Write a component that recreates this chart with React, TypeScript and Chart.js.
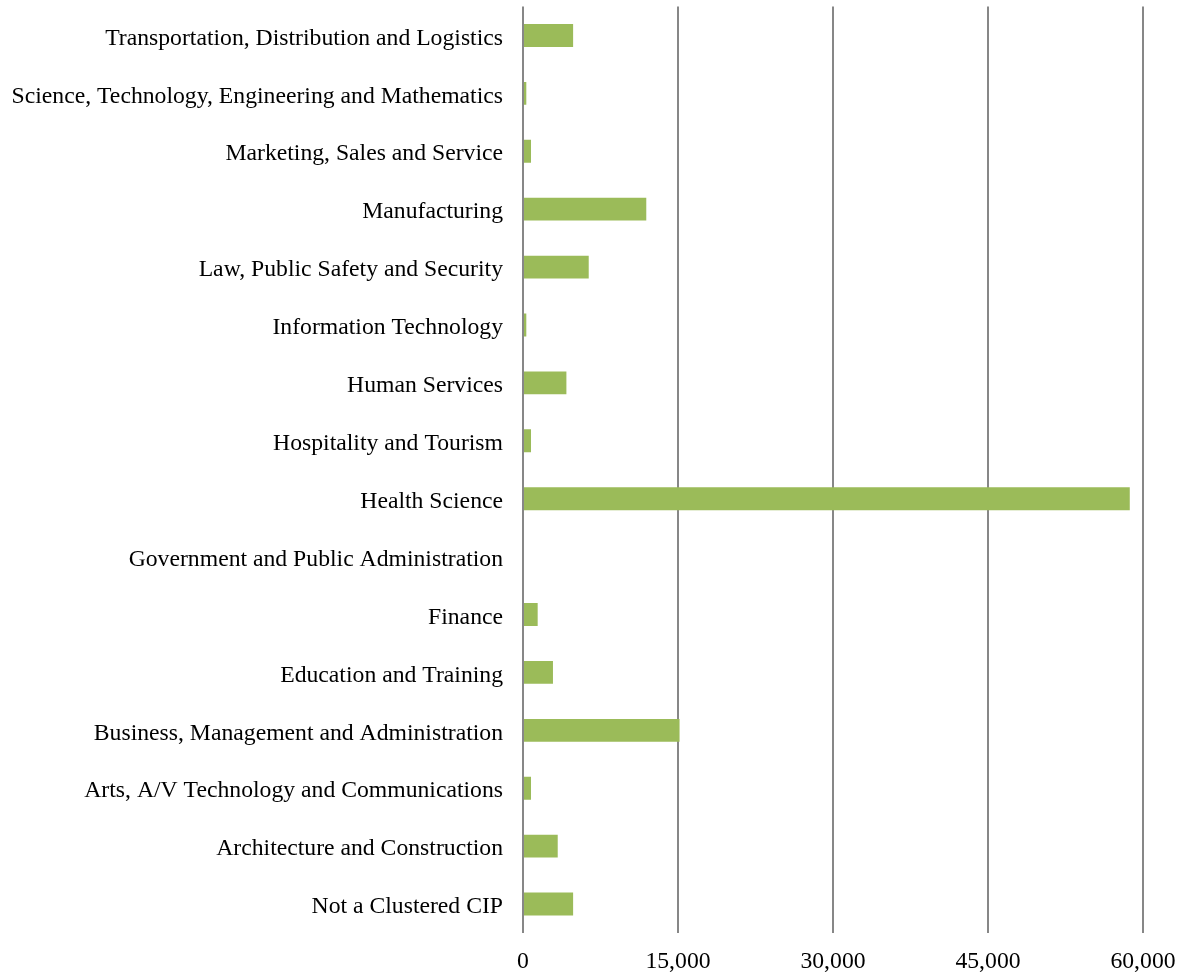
import React, { useEffect, useRef } from "react";
import { Chart, registerables } from "chart.js";

Chart.register(...registerables);

const categories = [
  "Transportation, Distribution and Logistics",
  "Science, Technology, Engineering and Mathematics",
  "Marketing, Sales and Service",
  "Manufacturing",
  "Law, Public Safety and Security",
  "Information Technology",
  "Human Services",
  "Hospitality and Tourism",
  "Health Science",
  "Government and Public Administration",
  "Finance",
  "Education and Training",
  "Business, Management and Administration",
  "Arts, A/V Technology and Communications",
  "Architecture and Construction",
  "Not a Clustered CIP",
];

const values = [
  4850, 320, 775, 11930, 6360, 320, 4200, 775, 58720, 0, 1420, 2900, 15150, 775, 3360, 4850,
];

const xTicks = [0, 15000, 30000, 45000, 60000];

export default function App() {
  const ref = useRef<HTMLCanvasElement | null>(null);

  useEffect(() => {
    document.body.style.margin = "0";
    const ctx = ref.current;
    if (!ctx) return;
    const font = { family: "'Liberation Serif', 'Times New Roman', serif", size: 23.7 };
    const chart = new Chart(ctx, {
      type: "bar",
      data: {
        labels: categories,
        datasets: [
          {
            data: values,
            backgroundColor: "#9BBB59",
            borderWidth: 0,
            categoryPercentage: 1,
            barPercentage: 0.395,
          },
        ],
      },
      options: {
        indexAxis: "y",
        responsive: false,
        animation: false,
        layout: { padding: { top: 6.5, right: 39, left: 0, bottom: 0 } },
        plugins: { legend: { display: false }, tooltip: { enabled: false } },
        scales: {
          x: {
            min: 0,
            max: 60000,
            afterBuildTicks: (axis: any) => {
              axis.ticks = xTicks.map((v) => ({ value: v }));
            },
            afterFit: (axis: any) => {
              axis.height = 39;
              axis.paddingLeft = 0;
              axis.paddingRight = 0;
            },
            grid: {
              color: "#878787",
              lineWidth: 2,
              drawTicks: false,
            },
            border: { display: false },
            ticks: {
              color: "#000",
              font,
              padding: 15,
              maxRotation: 0,
              callback: (v: any) => Number(v).toLocaleString("en-US"),
            },
          },
          y: {
            afterFit: (axis: any) => {
              axis.width = 523;
              axis.paddingTop = 0;
              axis.paddingBottom = 0;
            },
            grid: { display: false, drawTicks: false },
            border: { display: false },
            ticks: {
              color: "#000",
              font,
              padding: 20,
              labelOffset: 3,
              autoSkip: false,
            },
          },
        },
      },
    });
    return () => chart.destroy();
  }, []);

  return (
    <div style={{ position: "absolute", left: 0, top: 0, width: 1182, height: 972, background: "#fff" }}>
      <canvas ref={ref} width={1182} height={972} style={{ display: "block" }} />
    </div>
  );
}
